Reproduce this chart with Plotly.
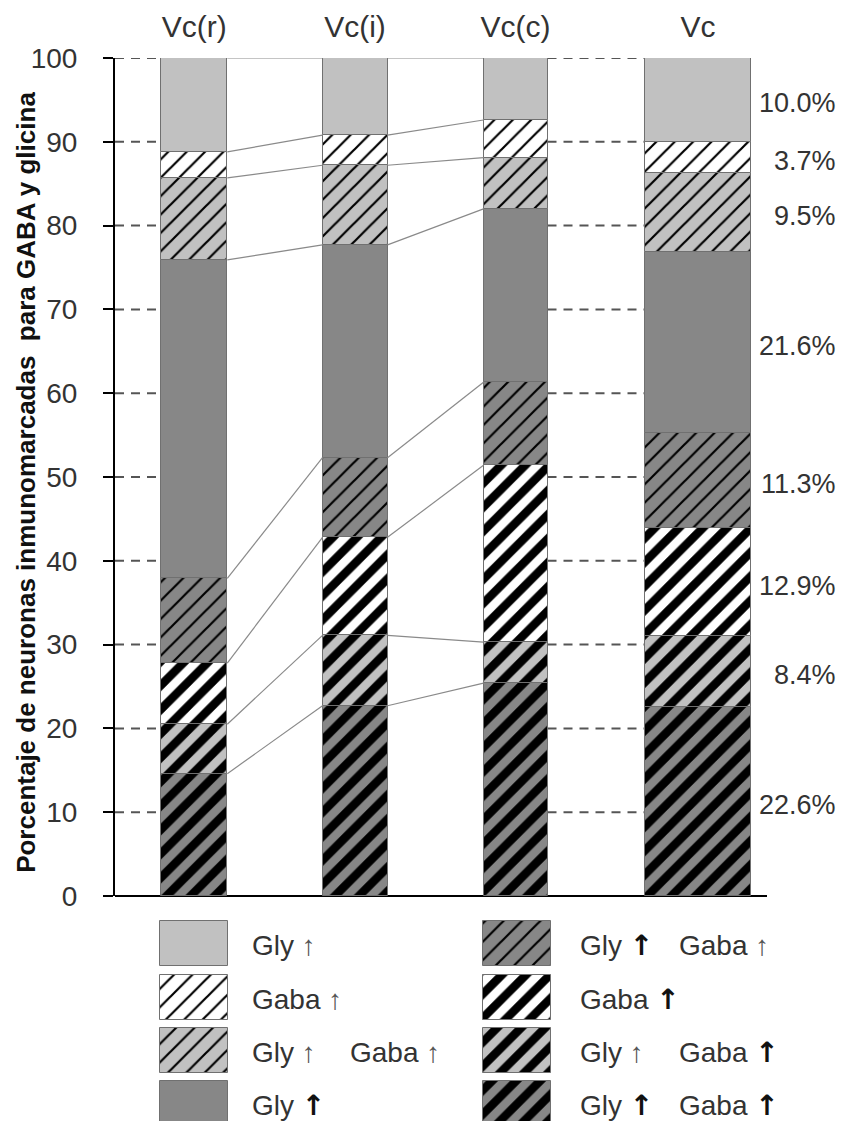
import numpy as np
import plotly.graph_objects as go

# ---------------- data ----------------
categories = ["Vc(r)", "Vc(i)", "Vc(c)", "Vc"]
# series, from the bottom of each stack to the top
gly_hh_gaba_hh = [14.6, 22.7, 25.4, 22.6]
gly_l_gaba_hh = [5.9, 8.4, 4.9, 8.4]
gaba_hh = [7.3, 11.7, 21.1, 12.9]
gly_hh_gaba_l = [10.1, 9.5, 9.9, 11.3]
gly_hh = [38.0, 25.4, 20.7, 21.6]
gly_l_gaba_l = [9.8, 9.5, 6.1, 9.5]
gaba_l = [3.1, 3.6, 4.5, 3.7]
gly_l = [11.2, 9.2, 7.4, 10.0]
y_ticks = [0, 10, 20, 30, 40, 50, 60, 70, 80, 90, 100]

T = "<span style='color:#555'>↑</span>"   # thin arrow
B = "<span style='font-family:DejaVu Sans;font-weight:bold;color:#111'>↑</span>"  # heavy arrow
series_labels = [
    ("Gly " + B, "Gaba " + B),
    ("Gly " + T, "Gaba " + B),
    ("Gaba " + B, ""),
    ("Gly " + B, "Gaba " + T),
    ("Gly " + B, ""),
    ("Gly " + T, "Gaba " + T),
    ("Gaba " + T, ""),
    ("Gly " + T, ""),
]
series_values = [gly_hh_gaba_hh, gly_l_gaba_hh, gaba_hh, gly_hh_gaba_l,
                 gly_hh, gly_l_gaba_l, gaba_l, gly_l]

# ---------------- style / layout constants (page pixels) ----------------
OFF = 8                                  # page body margin
W, H = 846 - 2 * OFF, 1129 - 2 * OFF     # figure size
X0, X1 = 115, 767                        # plot area, page px
Y_TOP, Y_ZERO = 58, 896                  # page px of 100 and 0
BOTTOM = OFF + H                         # page px of figure bottom
ML, MR, MT, MB = X0 - OFF, OFF + W - X1, Y_TOP - OFF, 0
bar_centers = [194.3, 355.0, 515.5, 698.0]
bar_widths = [66, 65, 64, 106]
LIGHT, DARK, WHITE = "#c1c1c1", "#878787", "#ffffff"
styles = [(DARK, "thick"), (LIGHT, "thick"), (WHITE, "thick"), (DARK, "thin"),
          (DARK, None), (LIGHT, "thin"), (WHITE, "thin"), (LIGHT, None)]
FONT = "Liberation Sans, Arial, sans-serif"
TXT = "#333333"


def marker_for(bg, kind):
    m = dict(color=bg, line=dict(color="#707070", width=1))
    if kind == "thick":
        m["pattern"] = dict(shape="/", size=17, solidity=0.5, fgcolor="black",
                            bgcolor=bg, fillmode="replace")
    elif kind == "thin":
        m["pattern"] = dict(shape="/", size=13, solidity=0.17, fgcolor="black",
                            bgcolor=bg, fillmode="replace")
    return m


vals = np.array(series_values, dtype=float)          # (series, category)
cum = np.vstack([np.zeros(vals.shape[1]), np.cumsum(vals, axis=0)])

fig = go.Figure()

# main stacked bars
for i, (v, (bg, kind)) in enumerate(zip(vals, styles)):
    fig.add_trace(go.Bar(
        x=bar_centers, y=v, base=cum[i], width=bar_widths,
        marker=marker_for(bg, kind), showlegend=False, hoverinfo="skip",
        xaxis="x", yaxis="y"))

# connector lines between the first three bars
cx, cy = [], []
for b in range(2):
    xr = bar_centers[b] + bar_widths[b] / 2
    xl = bar_centers[b + 1] - bar_widths[b + 1] / 2
    for k in range(1, cum.shape[0]):
        cx += [xr, xl, None]
        cy += [cum[k, b], cum[k, b + 1], None]
fig.add_trace(go.Scatter(x=cx, y=cy, mode="lines",
                         line=dict(color="#8a8a8a", width=1.2),
                         showlegend=False, hoverinfo="skip",
                         xaxis="x", yaxis="y"))

# dashed guide lines
shapes = []
left_gap = (X0, bar_centers[0] - bar_widths[0] / 2)
right_gap = (bar_centers[2] + bar_widths[2] / 2, bar_centers[3] - bar_widths[3] / 2)
for t in y_ticks[1:]:
    for (a, b) in (left_gap, right_gap):
        shapes.append(dict(type="line", xref="x", yref="y", x0=a, x1=b, y0=t, y1=t,
                           line=dict(color="#555555", width=2, dash="9px,7px"),
                           layer="below"))

# percentage labels for Vc
annotations = []
vc = vals[:, 3]
for i, v in enumerate(vc):
    yc = cum[i, 3] + v / 2 - 0.4
    annotations.append(dict(text=f"{v:.1f}%", x=(838 - X0) / (X1 - X0), xref="paper",
                            y=yc, yref="y", xanchor="right", yanchor="middle",
                            showarrow=False, font=dict(size=27, color=TXT, family=FONT)))

# y axis title
annotations.append(dict(
    text="<b>Porcentaje de neuronas inmunomarcadas  para GABA y glicina</b>",
    textangle=-90, x=(26 - X0) / (X1 - X0), xref="paper", y=49.3, yref="y",
    xanchor="center", yanchor="middle", showarrow=False,
    font=dict(size=26, color="#111111", family=FONT)))

# legend (own subplot, page pixel units)
col_centers = [194, 517]
sw_w, sw_h = 68, 45
row_tops = [921, 975, 1028, 1081]
text_x = [(250, 348), (578, 677)]
order = list(range(len(series_values)))[::-1]   # top series first
for j, s in enumerate(order):
    col, row = j // 4, j % 4
    bg, kind = styles[s]
    fig.add_trace(go.Bar(
        x=[col_centers[col]], y=[sw_h], base=[row_tops[row]], width=[sw_w],
        marker=marker_for(bg, kind), showlegend=False, hoverinfo="skip",
        xaxis="x2", yaxis="y2"))
    p1, p2 = series_labels[s]
    for part, tx in zip((p1, p2), text_x[col]):
        if part:
            annotations.append(dict(text=part, x=tx, xref="x2",
                                    y=row_tops[row] + sw_h / 2 + 2, yref="y2",
                                    xanchor="left", yanchor="middle", showarrow=False,
                                    font=dict(size=28, color=TXT, family=FONT)))

plot_h = H - MT - MB
y_dom_bottom = (BOTTOM - Y_ZERO) / plot_h
leg_top = 905

fig.update_layout(
    template="none",
    width=W, height=H, margin=dict(l=ML, r=MR, t=MT, b=MB, pad=0),
    paper_bgcolor="white", plot_bgcolor="white",
    barmode="overlay", bargap=0,
    font=dict(family=FONT, color=TXT),
    shapes=shapes, annotations=annotations,
    xaxis=dict(range=[X0, X1], domain=[0, 1], side="top", anchor="y",
               tickvals=bar_centers, ticktext=categories, ticks="",
               tickfont=dict(size=30, color=TXT, family=FONT),
               ticklabelstandoff=14, showgrid=False, zeroline=False,
               showline=False, fixedrange=True, automargin=False),
    yaxis=dict(range=[0, 100], domain=[y_dom_bottom, 1], anchor="x",
               tickvals=y_ticks, ticks="outside", ticklen=10, tickwidth=2,
               tickcolor="black", showline=True, linecolor="black", linewidth=2,
               showgrid=False, zeroline=True, zerolinecolor="black",
               zerolinewidth=2, tickfont=dict(size=28, color=TXT, family=FONT),
               ticklabelstandoff=20, automargin=False),
    xaxis2=dict(range=[X0, X1], domain=[0, 1], anchor="y2", visible=False,
                automargin=False),
    yaxis2=dict(range=[BOTTOM, leg_top], domain=[0, (BOTTOM - leg_top) / plot_h],
                anchor="x2", visible=False, automargin=False),
)

fig.write_html("out.html")
